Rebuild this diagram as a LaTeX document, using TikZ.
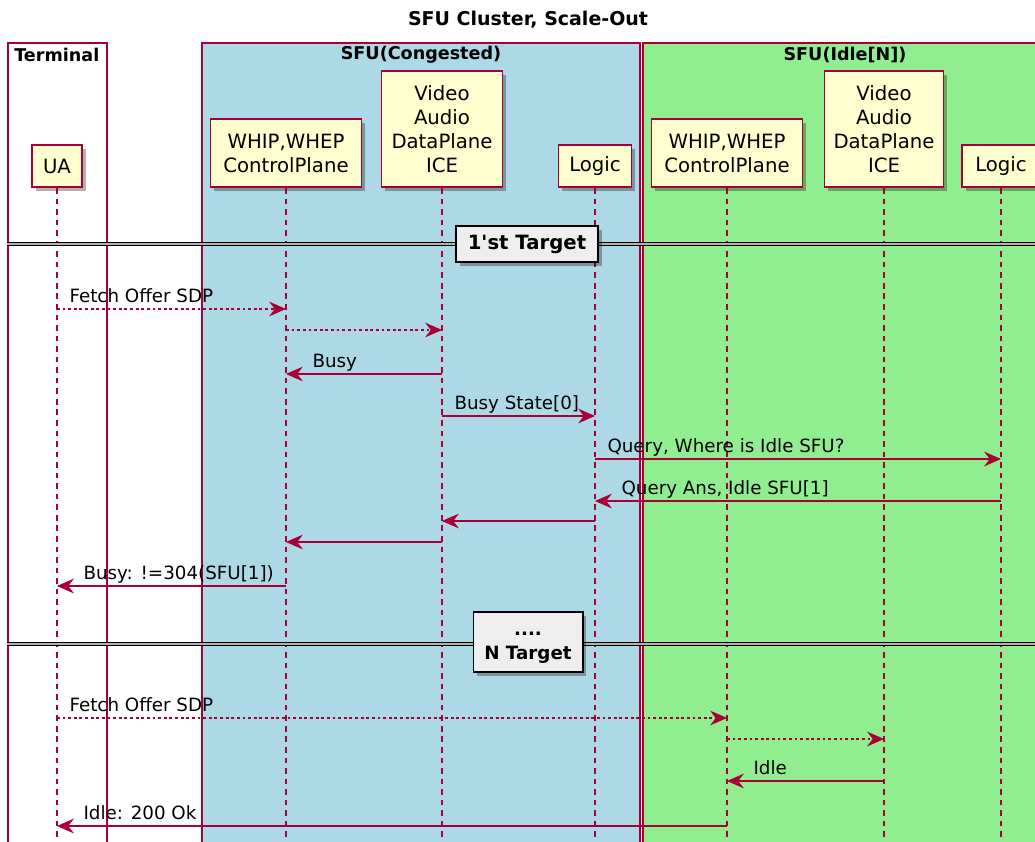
\documentclass[tikz,border=0pt]{standalone}
\usepackage{fontspec}
\setmainfont{DejaVu Sans}
\usetikzlibrary{positioning, arrows.meta, shadows}
\definecolor{umlred}{HTML}{A80036}
\definecolor{umlyellow}{HTML}{FEFECE}
\definecolor{umlblue}{HTML}{ADD8E6}
\definecolor{umlgreen}{HTML}{90EE90}
\definecolor{umlgray}{HTML}{EEEEEE}
\begin{document}
\begin{tikzpicture}[x=0.025cm,y=-0.025cm,grp/.style={draw=umlred,line width=0.8pt},grplabel/.style={font=\bfseries\fontsize{12.5}{14}\selectfont,inner sep=0pt},part/.style={draw=umlred,line width=1.2pt,fill=umlyellow,align=center,anchor=south,inner sep=0pt,font=\fontsize{14}{17}\selectfont,drop shadow={shadow xshift=2.5pt,shadow yshift=-2.5pt,fill=black,opacity=0.3}},life/.style={draw=umlred,line width=0.8pt,dash pattern=on 4pt off 3.5pt},msg/.style={draw=umlred,line width=0.8pt,-{Stealth[length=12pt,width=10.5pt,inset=4pt]}},rmsg/.style={msg,dash pattern=on 2pt off 2pt},lbl/.style={anchor=base west,inner sep=0pt,font=\fontsize{13}{15}\selectfont},lblfrom/.style={lbl,pos=0,xshift=8.5pt,yshift=4.5pt},lblto/.style={lbl,pos=1,xshift=18.5pt,yshift=4.5pt},sepline/.style={draw=black,line width=1pt,double=black!30,double distance=1.2pt},seplabel/.style={draw=black,line width=1.4pt,fill=umlgray,align=center,inner sep=0pt,font=\bfseries\fontsize{14}{17}\selectfont,drop shadow={shadow xshift=2.5pt,shadow yshift=-2.5pt,fill=black,opacity=0.3}}]
\useasboundingbox (0,0) rectangle (1035,842);
\clip (0,0) rectangle (1035,842);
\node[font=\bfseries\fontsize{13.5}{16}\selectfont] (title) at (528,20) {SFU Cluster, Scale-Out};
% boxes
\draw[grp,fill=white] (8,43) rectangle (107,870);
\draw[grp,fill=umlblue] (202,43) rectangle (640,870);
\draw[grp,fill=umlgreen] (643,43) rectangle (1047,870);
\node[grplabel,anchor=west] (terminal) at (14,55) {Terminal};
\node[grplabel] (congested) at (421,55) {SFU(Congested)};
\node[grplabel] (idle) at (845,55) {SFU(Idle[N])};
\coordinate (bottom) at (0,870);
% participants
\node[part,minimum width=1.25cm,minimum height=1.05cm] (ua) at (57,188) {UA};
\node[part,minimum width=3.775cm,minimum height=1.7cm] (cpa) at (286,188) {WHIP,WHEP\\ControlPlane};
\node[part,minimum width=3.025cm,minimum height=2.9cm] (dpa) at (442,188) {Video\\Audio\\DataPlane\\ICE};
\node[part,minimum width=1.825cm,minimum height=1.05cm] (lga) at (595,188) {Logic};
\node[part,minimum width=3.775cm,minimum height=1.7cm] (cpb) at (727,188) {WHIP,WHEP\\ControlPlane};
\node[part,minimum width=2.975cm,minimum height=2.9cm] (dpb) at (884,188) {Video\\Audio\\DataPlane\\ICE};
\node[part,minimum width=1.95cm,minimum height=1.05cm] (lgb) at (1001,188) {Logic};
\foreach \p in {ua,cpa,dpa,lga,cpb,dpb,lgb} \draw[life] (\p.south) -- (\p |- bottom);
% dividers
\draw[sepline] (7,244) -- (1040,244);
\node[seplabel,minimum width=3.55cm,minimum height=0.9cm] (first) at (527,244) {1\textquotesingle st Target};
\draw[sepline] (7,644) -- (1040,644);
\node[seplabel,minimum width=2.725cm,minimum height=1.5cm] (nth) at (528,642) {};
\node[align=center,inner sep=0pt,font=\bfseries\fontsize{13}{17}\selectfont] (nthtext) at (528,648) {....\\N Target};
% messages
\coordinate (m1) at (0,309);\coordinate (m2) at (0,330);\coordinate (m3) at (0,374);\coordinate (m4) at (0,416);
\coordinate (m5) at (0,459);\coordinate (m6) at (0,501);\coordinate (m7) at (0,521);\coordinate (m8) at (0,542);
\coordinate (m9) at (0,586);\coordinate (m10) at (0,718);\coordinate (m11) at (0,739);\coordinate (m12) at (0,781);\coordinate (m13) at (0,826);
\draw[rmsg] (ua |- m1) -- node[lblfrom] (l1) {Fetch Offer SDP} (cpa |- m1);
\draw[rmsg] (cpa |- m2) -- (dpa |- m2);
\draw[msg] (dpa |- m3) -- node[lblto] (l3) {Busy} (cpa |- m3);
\draw[msg] (dpa |- m4) -- node[lblfrom] (l4) {Busy State[0]} (lga |- m4);
\draw[msg] (lga |- m5) -- node[lblfrom] (l5) {Query, Where is Idle SFU?} (lgb |- m5);
\draw[msg] (lgb |- m6) -- node[lblto] (l6) {Query Ans, Idle SFU[1]} (lga |- m6);
\draw[msg] (lga |- m7) -- (dpa |- m7);
\draw[msg] (dpa |- m8) -- (cpa |- m8);
\draw[msg] (cpa |- m9) -- node[lblto] (l9) {Busy: !=304(SFU[1])} (ua |- m9);
\draw[rmsg] (ua |- m10) -- node[lblfrom] (l10) {Fetch Offer SDP} (cpb |- m10);
\draw[rmsg] (cpb |- m11) -- (dpb |- m11);
\draw[msg] (dpb |- m12) -- node[lblto] (l12) {Idle} (cpb |- m12);
\draw[msg] (cpb |- m13) -- node[lblto] (l13) {Idle: 200 Ok} (ua |- m13);
\end{tikzpicture}
\end{document}
